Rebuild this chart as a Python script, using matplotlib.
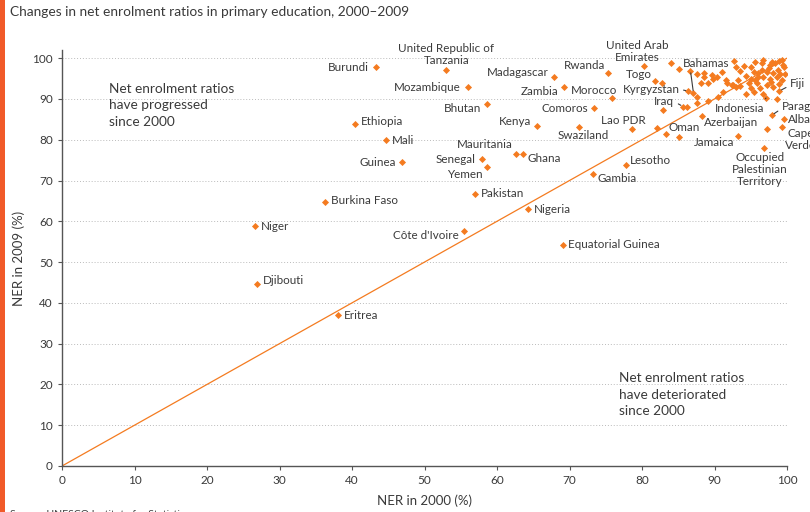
import matplotlib
matplotlib.use("Agg")
import matplotlib.pyplot as plt

# labelled countries: NER in 2000 and NER in 2009 (%)
countries = ["Burundi", "United Republic of\nTanzania", "Madagascar", "Rwanda",
             "Mozambique", "Zambia", "Morocco", "Bhutan", "Comoros", "Kenya",
             "Swaziland", "Lao PDR", "Ethiopia", "Mali", "Guinea", "Mauritania",
             "Ghana", "Senegal", "Yemen", "Pakistan", "Gambia", "Lesotho",
             "Burkina Faso", "Nigeria", "Niger", "Côte d'Ivoire",
             "Equatorial Guinea", "Djibouti", "Eritrea", "United Arab\nEmirates",
             "Togo", "Kyrgyzstan", "Bahamas", "Iraq", "Indonesia", "Azerbaijan",
             "Oman", "Jamaica", "Occupied\nPalestinian\nTerritory", "Fiji",
             "Paraguay", "Albania", "Cape\nVerde"]
ner_2000 = [43.3, 53.0, 67.9, 75.3, 56.0, 69.2, 75.9, 58.6, 73.4, 65.5,
            71.3, 78.6, 40.4, 44.7, 46.9, 62.6, 63.6, 57.9, 58.6, 57.0,
            73.2, 77.8, 36.3, 64.3, 26.6, 55.4, 69.1, 26.9, 38.1, 80.3,
            81.8, 86.4, 87.1, 85.7, 97.1, 88.3, 83.3, 93.2, 96.8, 98.9,
            97.9, 99.6, 99.3]
ner_2009 = [97.8, 97.1, 95.3, 96.3, 92.9, 92.9, 90.2, 88.7, 87.7, 83.3,
            83.1, 82.6, 83.8, 79.9, 74.5, 76.5, 76.5, 75.2, 73.3, 66.7,
            71.6, 73.8, 64.7, 63.0, 58.8, 57.6, 54.2, 44.6, 37.0, 98.0,
            94.4, 91.9, 91.4, 88.1, 90.2, 85.8, 81.5, 80.9, 77.9, 91.9,
            86.0, 85.0, 83.1]

# other (unlabelled) countries
other_2000 = [96.7, 99.3, 92.7, 96.5, 97.7, 98.3, 99.5, 93.5, 95.4, 96.6,
              97.2, 98.1, 98.8, 99.7, 94.3, 95.1, 96.0, 96.7, 97.7, 98.6,
              99.3, 91.7, 92.6, 93.5, 95.8, 96.3, 97.2, 98.1, 91.2, 94.4,
              95.4, 96.7, 84.0, 85.1, 86.6, 87.6, 88.6, 88.6, 89.6, 89.8,
              88.2, 89.1, 90.4, 91.6, 82.8, 87.6, 87.6, 86.2, 89.1, 82.9,
              85.1, 90.5, 82.1, 93.0, 95.0, 98.6, 97.3, 92.4, 93.2, 95.6,
              94.0, 95.0, 97.9, 98.9, 96.0, 97.5, 99.0, 94.8, 97.8, 98.9,
              99.6, 95.6, 93.0, 91.0]
other_2009 = [99.6, 99.5, 99.3, 98.7, 98.3, 98.7, 98.3, 96.9, 96.6, 97.2,
              96.6, 96.4, 97.1, 96.2, 95.6, 95.0, 95.4, 95.4, 95.0, 95.3,
              94.6, 93.8, 93.4, 93.1, 93.8, 92.8, 93.4, 93.0, 91.7, 91.3,
              91.7, 91.3, 98.7, 97.3, 96.9, 96.1, 96.4, 95.4, 95.8, 95.0,
              94.0, 93.9, 95.4, 94.6, 94.0, 90.4, 88.9, 88.1, 89.5, 87.4,
              80.6, 90.5, 82.8, 93.0, 92.6, 90.0, 82.6, 93.4, 94.6, 94.6,
              98.0, 97.8, 99.0, 99.2, 96.3, 97.6, 96.0, 94.0, 94.2, 93.6,
              97.8, 99.0, 97.8, 96.5]

# label placement: offset in pixels, alignment, leader line start (relpos)
places = {
    "Burundi": (-7, 0, "right", "center", None),
    "United Republic of\nTanzania": (0, 4, "center", "bottom", None),
    "Madagascar": (-6, 5, "right", "center", None),
    "Rwanda": (-3, 8, "right", "center", None),
    "Mozambique": (-7, 0, "right", "center", None),
    "Zambia": (-5, -4, "right", "center", None),
    "Morocco": (5, 8, "right", "center", None),
    "Bhutan": (-6, -4, "right", "center", None),
    "Comoros": (-6, 0, "right", "center", None),
    "Kenya": (-6, 5, "right", "center", None),
    "Swaziland": (4, -8, "center", "center", None),
    "Lao PDR": (-8, 9, "center", "center", None),
    "Ethiopia": (6, 3, "left", "center", None),
    "Mali": (6, 0, "left", "center", None),
    "Guinea": (-6, 0, "right", "center", None),
    "Mauritania": (-3, 9, "right", "center", None),
    "Ghana": (4, -5, "left", "center", None),
    "Senegal": (-6, 0, "right", "center", None),
    "Yemen": (-4, -7, "right", "center", None),
    "Pakistan": (6, 0, "left", "center", None),
    "Gambia": (5, -5, "left", "center", None),
    "Lesotho": (4, 5, "left", "center", None),
    "Burkina Faso": (6, 2, "left", "center", None),
    "Nigeria": (6, 0, "left", "center", None),
    "Niger": (6, 0, "left", "center", None),
    "Côte d'Ivoire": (-5, -4, "right", "center", None),
    "Equatorial Guinea": (5, 0, "left", "center", None),
    "Djibouti": (6, 4, "left", "center", None),
    "Eritrea": (6, 0, "left", "center", None),
    "United Arab\nEmirates": (-7, 3, "center", "bottom", None),
    "Togo": (-3, 6, "right", "center", None),
    "Kyrgyzstan": (-9, 2, "right", "center", (1, 0.5)),
    "Bahamas": (13, 30, "center", "center", (0.15, 0)),
    "Iraq": (-9, 5, "right", "center", (1, 0.5)),
    "Indonesia": (-2, -10, "right", "center", (0.97, 1)),
    "Azerbaijan": (2, -6, "left", "center", None),
    "Oman": (3, 6, "left", "center", None),
    "Jamaica": (-3, -6, "right", "center", None),
    "Occupied\nPalestinian\nTerritory": (-4, -4, "center", "top", None),
    "Fiji": (11, 8, "left", "center", (0, 0.3)),
    "Paraguay": (10, 9, "left", "center", (0, 0.3)),
    "Albania": (4, 0, "left", "center", None),
    "Cape\nVerde": (3, -1, "left", "top", None),
}

orange = "#F47B20"
txt = "#3a3a3a"
plt.rcParams["font.family"] = ["Lato", "DejaVu Sans"]

fig = plt.figure(figsize=(8.1, 5.12), dpi=100)
ax = fig.add_axes([62 / 810, 46 / 512, 725 / 810, 416 / 512])

ax.plot([0, 100], [0, 100], color=orange, lw=0.9, zorder=2)
ax.scatter(other_2000, other_2009, marker="D", s=13, color=orange, lw=0, zorder=3)
ax.scatter(ner_2000, ner_2009, marker="D", s=13, color=orange, lw=0, zorder=3)

for name, x, y in zip(countries, ner_2000, ner_2009):
    dx, dy, ha, va, rel = places[name]
    kw = {}
    if rel is not None:
        kw["arrowprops"] = dict(arrowstyle="-", color=txt, lw=0.8, relpos=rel,
                                shrinkA=1, shrinkB=2)
    ax.annotate(name, (x, y), xytext=(dx, dy), textcoords="offset pixels",
                ha=ha, va=va, multialignment="center", fontsize=8.4, color=txt,
                annotation_clip=False, linespacing=1.1, **kw)

ax.text(6.5, 94.0, "Net enrolment ratios\nhave progressed\nsince 2000",
        ha="left", va="top", fontsize=9.8, color=txt, linespacing=1.45)
ax.text(76.8, 23.0, "Net enrolment ratios\nhave deteriorated\nsince 2000",
        ha="left", va="top", fontsize=9.8, color=txt, linespacing=1.45)

ax.set_xlim(0, 100)
ax.set_ylim(0, 102)
ax.set_xticks(range(0, 101, 10))
ax.set_yticks(range(0, 101, 10))
ax.yaxis.grid(True, linestyle=(0, (1, 2)), color="#bbbbbb", lw=0.7)
ax.set_axisbelow(True)
for s in ["top", "right"]:
    ax.spines[s].set_visible(False)
for s in ["left", "bottom"]:
    ax.spines[s].set_color("#555555")
    ax.spines[s].set_linewidth(1.0)
ax.tick_params(length=3, width=0.8, color="#555555", labelsize=8.5, labelcolor=txt)
ax.set_xlabel("NER in 2000 (%)", fontsize=9.5, color=txt, labelpad=6)
ax.set_ylabel("NER in 2009 (%)", fontsize=9.5, color=txt, labelpad=5)

fig.text(10 / 810, 1 - 12 / 512, "Changes in net enrolment ratios in primary education, 2000–2009",
         ha="left", va="center", fontsize=9.9, color=txt)
fig.text(10 / 810, 1 - 510 / 512, "Source: UNESCO Institute for Statistics",
         ha="left", va="top", fontsize=7.5, color=txt)
fig.patches.append(plt.Rectangle((0, 0), 5 / 810, 1, transform=fig.transFigure,
                                 color="#F15A29", lw=0))

fig.savefig("out.png", dpi=100)
